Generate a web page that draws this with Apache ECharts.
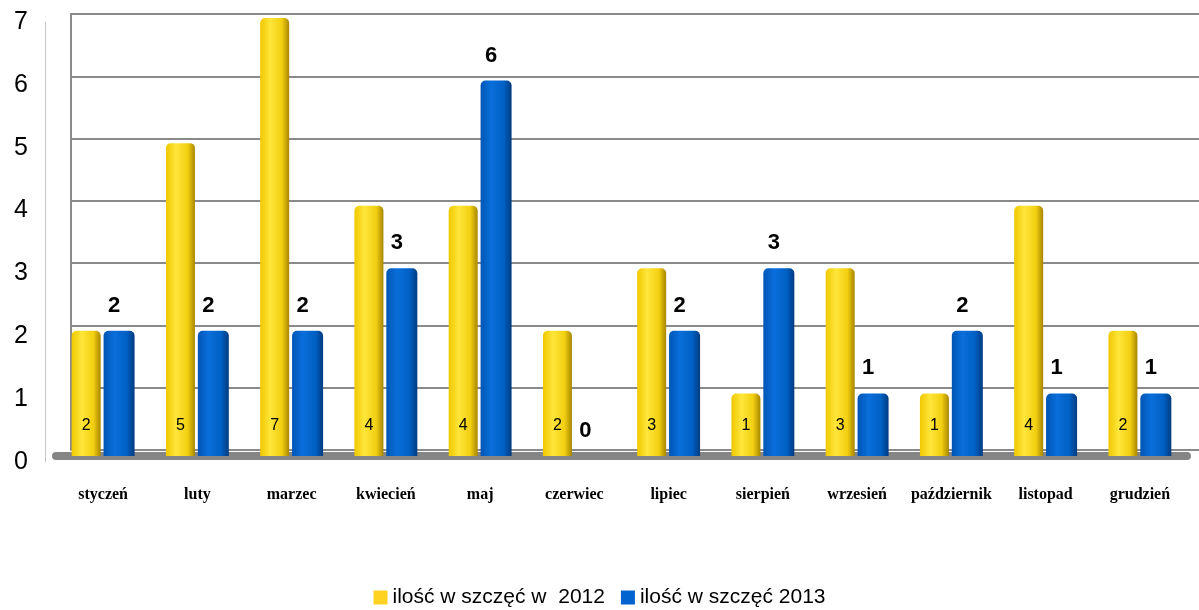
<!DOCTYPE html>
<html><head><meta charset="utf-8">
<script src="https://cdn.jsdelivr.net/npm/echarts@6/dist/echarts.min.js"></script>
<style>html,body{margin:0;padding:0;background:#fff}#c{width:1199px;height:610px}</style>
</head><body><div id="c"></div>
<script>
const categories = ['styczeń','luty','marzec','kwiecień','maj','czerwiec','lipiec','sierpień','wrzesień','październik','listopad','grudzień'];
const values2012 = [2,5,7,4,4,2,3,1,3,1,4,2];
const values2013 = [2,2,2,3,6,0,2,3,1,2,1,1];
const yTicks = [0,1,2,3,4,5,6,7];
const legendNames = ['ilość w szczęć w  2012','ilość w szczęć 2013'];

const yellow = {type:'linear',x:0,y:0,x2:1,y2:0,colorStops:[
  {offset:0,color:'#EFC800'},{offset:0.35,color:'#FFE63A'},{offset:0.75,color:'#F2CF10'},{offset:1,color:'#A88600'}]};
const blue = {type:'linear',x:0,y:0,x2:1,y2:0,colorStops:[
  {offset:0,color:'#0055B5'},{offset:0.35,color:'#0A6FDB'},{offset:0.75,color:'#0060C4'},{offset:1,color:'#003B80'}]};

const chart = echarts.init(document.getElementById('c'));
chart.setOption({
  animation:false,
  grid:[
    {left:71,right:0,top:14,bottom:160},
    {left:56,right:12,top:18,bottom:154},
    {left:45,right:12,top:22,bottom:148}
  ],
  xAxis:[
    {gridIndex:0,type:'category',data:categories,show:false},
    {gridIndex:1,type:'category',data:categories,
      axisLine:{show:true,lineStyle:{color:'#858585',width:8}},
      axisTick:{show:false},
      axisLabel:{margin:31,fontFamily:'Liberation Serif',fontWeight:'bold',fontSize:16,color:'#000',interval:0}},
    {gridIndex:2,type:'category',data:categories,show:false}
  ],
  yAxis:[
    {gridIndex:0,type:'value',min:0,max:7,interval:1,
      axisLine:{show:true,lineStyle:{color:'#8a8a8a',width:2}},
      axisTick:{show:false},axisLabel:{show:false},
      splitLine:{show:true,lineStyle:{color:'#8a8a8a',width:2}}},
    {gridIndex:1,type:'value',min:0,max:7,interval:1,show:false,splitLine:{show:false}},
    {gridIndex:2,type:'value',min:0,max:7,interval:1,
      axisLine:{show:true,lineStyle:{color:'#c8c8c8',width:1}},
      axisTick:{show:false},splitLine:{show:false},
      axisLabel:{margin:17,fontFamily:'Liberation Sans',fontSize:25,color:'#000',
        formatter:v=>yTicks.indexOf(v)>=0?String(v):''}}
  ],
  legend:{bottom:-3,left:'center',itemWidth:14,itemHeight:14,itemGap:16,icon:'rect',
    textStyle:{fontFamily:'Liberation Sans',fontSize:21,color:'#000'},
    data:[{name:legendNames[0],itemStyle:{color:'#FFD21F'}},{name:legendNames[1],itemStyle:{color:'#0063CF'}}]},
  series:[
    {name:legendNames[0],type:'bar',xAxisIndex:1,yAxisIndex:1,data:values2012,barWidth:29,barGap:'10%',
      itemStyle:{color:yellow,borderRadius:[5,5,0,0]},
      label:{show:true,position:'insideBottom',distance:22,fontFamily:'Liberation Sans',fontSize:16,color:'#000'}},
    {name:legendNames[1],type:'bar',xAxisIndex:1,yAxisIndex:1,data:values2013,barWidth:31,
      itemStyle:{color:blue,borderRadius:[5,5,0,0]},
      label:{show:true,position:'top',distance:14,fontFamily:'Liberation Sans',fontWeight:'bold',fontSize:22,color:'#000',offset:[-5,0]}}
  ]
});
</script></body></html>
